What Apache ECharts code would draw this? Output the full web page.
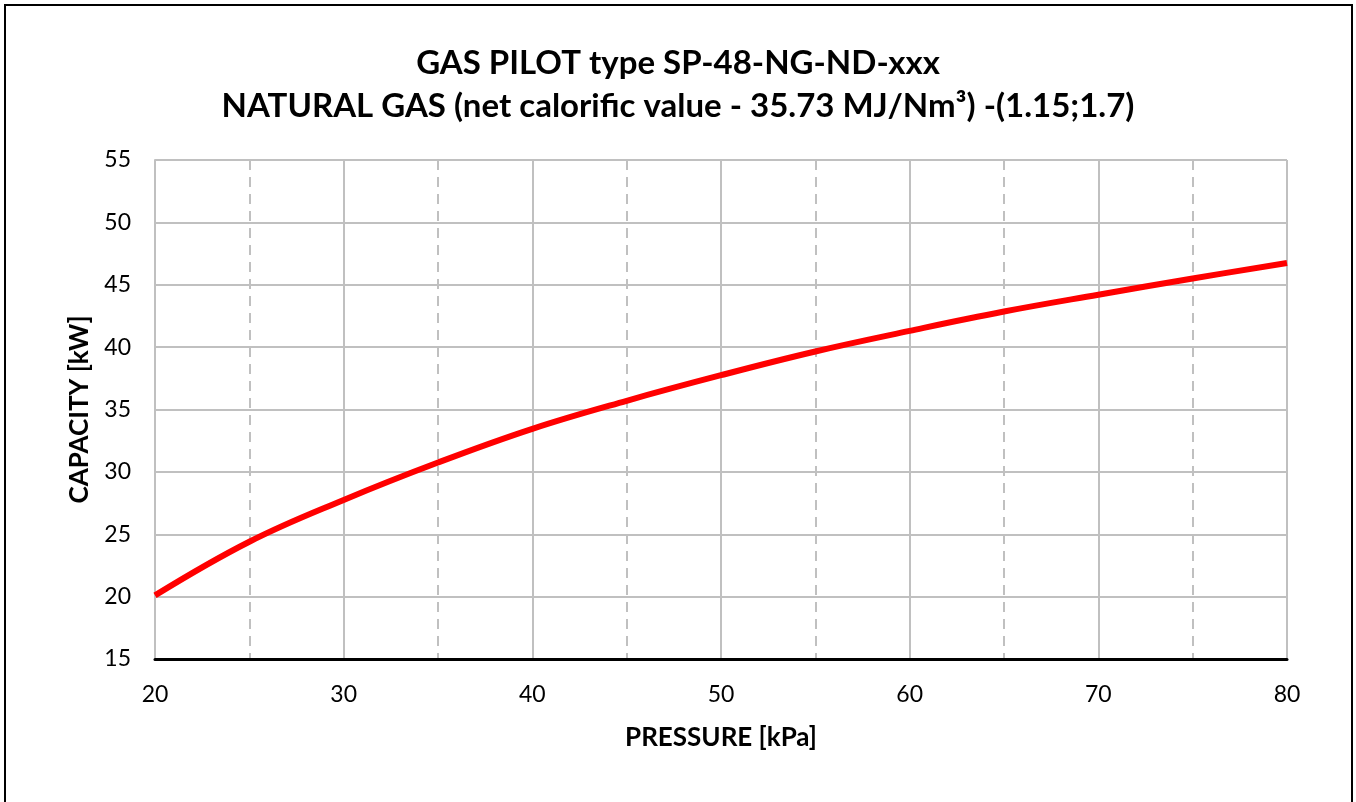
<!DOCTYPE html>
<html>
<head>
<meta charset="utf-8">
<script src="https://cdn.jsdelivr.net/npm/echarts@6/dist/echarts.min.js"></script>
<style>
html,body{margin:0;padding:0;background:#fff;}
#chart{width:1356px;height:802px;}
</style>
</head>
<body>
<div id="chart"></div>
<script>
const pressure = [20, 25, 30, 35, 40, 45, 50, 55, 60, 65, 70, 75, 80];
const capacity = [20.1, 24.4, 27.75, 30.75, 33.45, 35.7, 37.75, 39.65, 41.3, 42.85, 44.2, 45.5, 46.75];
const titleLines = ['GAS PILOT type SP-48-NG-ND-xxx', 'NATURAL GAS (net calorific value - 35.73 MJ/Nm³) -(1.15;1.7)'];
const xName = 'PRESSURE [kPa]';
const yName = 'CAPACITY [kW]';

const data = pressure.map((p, i) => [p, capacity[i]]);
const font = 'Lato, "Open Sans", sans-serif';
const chart = echarts.init(document.getElementById('chart'));
chart.setOption({
  backgroundColor: '#fff',
  animation: false,
  title: {
    text: titleLines.join('\n'),
    left: 'center',
    top: 37,
    textStyle: { fontFamily: font, fontWeight: 'bold', fontSize: 33, color: '#000', lineHeight: 43 }
  },
  graphic: [{
    type: 'rect',
    shape: { x: 5, y: 5, width: 1347, height: 830 },
    style: { fill: 'none', stroke: '#000', lineWidth: 2 },
    silent: true
  }],
  grid: { left: 155, right: 69, top: 160, bottom: 143 },
  xAxis: {
    type: 'value', min: 20, max: 80, interval: 10,
    name: xName, nameLocation: 'middle', nameGap: 66,
    nameTextStyle: { fontFamily: font, fontWeight: 'bold', fontSize: 26, color: '#000' },
    axisLine: { show: true, onZero: false, lineStyle: { color: '#000', width: 3 } },
    axisTick: { show: false },
    axisLabel: { fontFamily: font, fontSize: 23, color: '#000', margin: 24 },
    splitLine: { show: true, lineStyle: { color: '#c0c0c0', width: 2 } },
    minorTick: { show: false, splitNumber: 2 },
    minorSplitLine: { show: true, lineStyle: { color: '#c0c0c0', width: 2, type: [10, 7] } }
  },
  yAxis: {
    type: 'value', min: 15, max: 55, interval: 5,
    name: yName, nameLocation: 'middle', nameGap: 62,
    nameTextStyle: { fontFamily: font, fontWeight: 'bold', fontSize: 26, color: '#000' },
    axisLine: { show: true, lineStyle: { color: '#c0c0c0', width: 2 } },
    axisTick: { show: false },
    axisLabel: { fontFamily: font, fontSize: 23, color: '#000', margin: 24 },
    splitLine: { show: true, lineStyle: { color: '#c0c0c0', width: 2 } }
  },
  series: [{
    type: 'line',
    data: data,
    smooth: 0.4,
    showSymbol: false,
    lineStyle: { color: '#ff0000', width: 6 },
    z: 5
  }]
});
</script>
</body>
</html>
